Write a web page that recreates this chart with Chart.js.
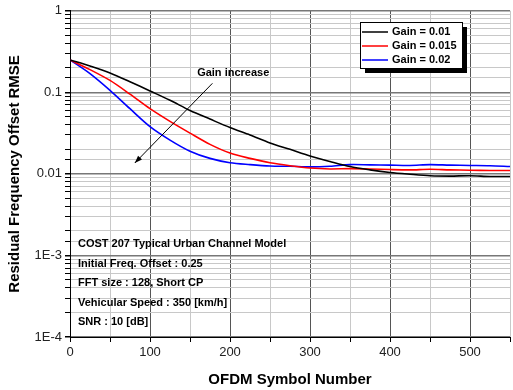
<!DOCTYPE html>
<html>
<head>
<meta charset="utf-8">
<script src="https://cdn.jsdelivr.net/npm/chart.js@4/dist/chart.umd.min.js"></script>
<style>
  html, body { margin: 0; padding: 0; background: #fff; }
  #wrap { width: 513px; height: 390px; }
</style>
</head>
<body>
<div id="wrap"><canvas id="rmseChart"></canvas></div>
<script>
// OFDM symbol index and residual RMSE per loop gain
const symbols = [0, 25, 50, 75, 100, 125, 150, 175, 200, 225, 250, 275, 300, 325, 350, 375, 400, 425, 450, 475, 500, 525, 550];
const gain001 = [0.25, 0.21, 0.173, 0.135, 0.104, 0.08, 0.06, 0.047, 0.037, 0.03, 0.024, 0.02, 0.0166, 0.0142, 0.0123, 0.0112, 0.0104, 0.0099, 0.0095, 0.0094, 0.0095, 0.0093, 0.0093];
const gain0015 = [0.25, 0.19, 0.14, 0.095, 0.063, 0.044, 0.0316, 0.023, 0.018, 0.0155, 0.0137, 0.0126, 0.0118, 0.0115, 0.0116, 0.0115, 0.0113, 0.0112, 0.0114, 0.0112, 0.0111, 0.011, 0.011];
const gain002 = [0.25, 0.17, 0.106, 0.063, 0.038, 0.026, 0.019, 0.0155, 0.0137, 0.013, 0.0125, 0.0124, 0.0122, 0.0124, 0.013, 0.0129, 0.0128, 0.0127, 0.013, 0.0128, 0.0127, 0.0126, 0.0123];
const seriesLabels = ["Gain = 0.01", "Gain = 0.015", "Gain = 0.02"];
const seriesColors = ["#000000", "#ff0000", "#0000ff"];

const decadeValues = [1e-4, 1e-3, 0.01, 0.1, 1];
const decadeLabels = ["1E-4", "1E-3", "0.01", "0.1", "1"];

const infoLines = [
  "COST 207 Typical Urban Channel Model",
  "Initial Freq. Offset : 0.25",
  "FFT size : 128, Short CP",
  "Vehicular Speed : 350 [km/h]",
  "SNR : 10 [dB]",
];
const arrowText = "Gain increase";

const toPoints = (ys) => symbols.map((x, i) => ({ x: x, y: ys[i] }));

function isDecade(v) {
  const l = Math.log10(v);
  return Math.abs(l - Math.round(l)) < 1e-6;
}

// legend box, arrow and notes drawn over the plot
const overlay = {
  id: "overlay",
  afterDatasetsDraw(chart) {
    const ctx = chart.ctx;
    const xs = chart.scales.x;
    const ys = chart.scales.y;
    ctx.save();

    // notes
    ctx.font = "bold 11px 'Liberation Sans', Arial, sans-serif";
    ctx.fillStyle = "#000";
    ctx.textAlign = "left";
    ctx.textBaseline = "middle";
    infoLines.forEach((t, i) => {
      ctx.fillText(t, chart.chartArea.left + 8, 244 + i * 19.5);
    });

    // arrow
    const x0 = xs.getPixelForValue(178), y0 = ys.getPixelForValue(0.129);
    const x1 = xs.getPixelForValue(81), y1 = ys.getPixelForValue(0.0136);
    ctx.strokeStyle = "#000";
    ctx.lineWidth = 1;
    ctx.beginPath();
    ctx.moveTo(x0, y0);
    ctx.lineTo(x1, y1);
    ctx.stroke();
    const a = Math.atan2(y1 - y0, x1 - x0);
    ctx.beginPath();
    ctx.moveTo(x1, y1);
    ctx.lineTo(x1 - 8 * Math.cos(a - 0.35), y1 - 8 * Math.sin(a - 0.35));
    ctx.lineTo(x1 - 8 * Math.cos(a + 0.35), y1 - 8 * Math.sin(a + 0.35));
    ctx.closePath();
    ctx.fill();
    ctx.textAlign = "center";
    ctx.fillText(arrowText, xs.getPixelForValue(204), ys.getPixelForValue(0.175));

    // legend
    const bx = 360, by = 22, bw = 102, bh = 46;
    ctx.fillStyle = "#000";
    ctx.fillRect(bx + 5, by + 5, bw, bh);
    ctx.fillStyle = "#fff";
    ctx.fillRect(bx, by, bw, bh);
    ctx.strokeStyle = "#000";
    ctx.strokeRect(bx + 0.5, by + 0.5, bw, bh);
    ctx.textAlign = "left";
    chart.data.datasets.forEach((ds, i) => {
      const yy = by + 10 + i * 14;
      ctx.strokeStyle = ds.borderColor;
      ctx.lineWidth = 1.5;
      ctx.beginPath();
      ctx.moveTo(bx + 2, yy);
      ctx.lineTo(bx + 28, yy);
      ctx.stroke();
      ctx.fillStyle = "#000";
      ctx.fillText(ds.label, bx + 32, yy);
    });
    ctx.restore();
  },
};

const ctx = document.getElementById("rmseChart");

new Chart(ctx, {
  type: "line",
  data: {
    datasets: [gain001, gain0015, gain002].map((ys, i) => ({
      label: seriesLabels[i],
      data: toPoints(ys),
      borderColor: seriesColors[i],
      backgroundColor: seriesColors[i],
      borderWidth: 1.6,
      pointRadius: 0,
      tension: 0.3,
    })),
  },
  options: {
    responsive: true,
    maintainAspectRatio: false,
    animation: false,
    layout: { padding: { top: 10, right: 1, left: 0, bottom: 0 } },
    plugins: { legend: { display: false }, tooltip: { enabled: false } },
    scales: {
      x: {
        type: "linear",
        min: 0,
        max: 550,
        afterFit: (s) => { s.height = 53; },
        ticks: {
          stepSize: 50,
          autoSkip: false,
          maxRotation: 0,
          padding: 3,
          color: "#222",
          font: { family: "'Liberation Sans', Arial, sans-serif", size: 13 },
          callback: (v) => (v % 100 === 0 ? String(v) : ""),
        },
        grid: {
          color: (c) => (c.tick && c.tick.value % 100 === 0 ? "#555" : "#c8c8c8"),
          tickColor: "#000",
          tickLength: 5,
        },
        border: { color: "#000", width: 1 },
        title: {
          display: true,
          text: "OFDM Symbol Number",
          color: "#000",
          font: { family: "'Liberation Sans', Arial, sans-serif", size: 15, weight: "bold" },
          padding: { top: 0, bottom: 1 },
        },
      },
      y: {
        type: "logarithmic",
        min: 1e-4,
        max: 1,
        afterFit: (s) => { s.width = 70; },
        ticks: {
          autoSkip: false,
          padding: 3,
          color: "#222",
          font: { family: "'Liberation Sans', Arial, sans-serif", size: 13 },
          callback: (v) => {
            if (!isDecade(v)) return "";
            const idx = decadeValues.findIndex((d) => Math.abs(Math.log10(d) - Math.log10(v)) < 1e-6);
            return idx >= 0 ? decadeLabels[idx] : "";
          },
        },
        grid: {
          color: (c) => (c.tick && isDecade(c.tick.value) ? "#777" : "#c8c8c8"),
          lineWidth: (c) => (c.tick && isDecade(c.tick.value) ? 1.5 : 1),
          tickColor: "#000",
          tickLength: 5,
        },
        border: { color: "#000", width: 1 },
        title: {
          display: true,
          text: "Residual Frequency Offset RMSE",
          color: "#000",
          font: { family: "'Liberation Sans', Arial, sans-serif", size: 15, weight: "bold" },
          padding: { top: 6, bottom: 0 },
        },
      },
    },
  },
  plugins: [overlay],
});
</script>
</body>
</html>
